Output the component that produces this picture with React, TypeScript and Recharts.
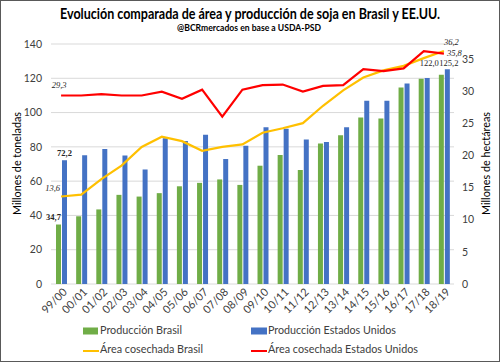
import React from "react";
import {
  ComposedChart,
  Bar,
  Line,
  XAxis,
  YAxis,
  CartesianGrid,
  LabelList,
} from "recharts";

const seasons = [
  "99/00", "00/01", "01/02", "02/03", "03/04", "04/05", "05/06", "06/07", "07/08", "08/09",
  "09/10", "10/11", "11/12", "12/13", "13/14", "14/15", "15/16", "16/17", "17/18", "18/19",
];

// millones de toneladas
const prodBrasil = [
  34.7, 39.5, 43.5, 52.0, 51.0, 53.0, 57.0, 59.0, 61.0, 57.8,
  69.0, 75.3, 66.5, 82.0, 86.7, 97.1, 96.5, 114.6, 119.8, 122.0,
];
const prodEEUU = [
  72.2, 75.1, 78.7, 75.0, 66.8, 85.0, 83.4, 87.0, 72.9, 80.7,
  91.4, 90.6, 84.3, 82.8, 91.4, 106.9, 106.9, 116.9, 120.1, 125.2,
];

// millones de hectáreas
const areaBrasil = [
  13.6, 13.9, 16.3, 18.4, 21.3, 22.9, 22.2, 20.7, 21.3, 21.7,
  23.5, 24.2, 25.0, 27.7, 30.1, 32.1, 33.2, 33.9, 35.1, 36.2,
];
const areaEEUU = [
  29.3, 29.3, 29.5, 29.3, 29.3, 29.9, 28.8, 30.2, 26.0, 30.2,
  30.9, 31.0, 29.9, 30.8, 30.9, 33.4, 33.1, 33.5, 36.2, 35.8,
];

const leftTicks = [0, 20, 40, 60, 80, 100, 120, 140];
const rightTicks = [0, 5, 10, 15, 20, 25, 30, 35];

const seriesNames = [
  "Producción Brasil",
  "Producción Estados Unidos",
  "Área cosechada Brasil",
  "Área cosechada Estados Unidos",
];

const GREEN = "#70AD47";
const BLUE = "#4472C4";
const YELLOW = "#FFC000";
const RED = "#FF0000";

const data = seasons.map((s, i) => ({
  season: s,
  prodBrasil: prodBrasil[i],
  prodEEUU: prodEEUU[i],
  areaBrasil: areaBrasil[i],
  areaEEUU: areaEEUU[i],
}));

const last = seasons.length - 1;
const fmt = (v: number) => v.toFixed(1).replace(".", ",");

// etiqueta solo en un punto (primero / último)
function pointLabel(opts: {
  index: number;
  dx: number;
  dy: number;
  anchor?: string;
  bold?: boolean;
  italic?: boolean;
  bar?: boolean;
}) {
  return (props: any) => {
    if (props.index !== opts.index) return null;
    const x = opts.bar ? props.x + props.width / 2 : props.x;
    return (
      <text
        x={x + opts.dx}
        y={props.y + opts.dy}
        textAnchor={opts.anchor || "middle"}
        fontSize={8.5}
        fontFamily="'Liberation Serif', serif"
        fontWeight={opts.bold ? 700 : 400}
        fontStyle={opts.italic ? "italic" : "normal"}
        fill="#262626"
      >
        {fmt(props.value)}
      </text>
    );
  };
}

const SeasonTick = (props: any) => {
  const { x, y, payload } = props;
  return (
    <g transform={`translate(${x + 4},${y - 2})`}>
      <text
        transform="rotate(-45)"
        textAnchor="end"
        dy="0.35em"
        fontSize={11}
        fontFamily="Lato, sans-serif"
        fill="#404040"
      >
        {payload.value}
      </text>
    </g>
  );
};

const tickStyle = { fontSize: 10.5, fontFamily: "Lato, sans-serif", fill: "#404040" };

export default function App() {
  return (
    <div style={{ position: "relative", width: 500, height: 362, background: "#fff" }}>
      <style>{"body{margin:0}"}</style>
      <ComposedChart
        width={500}
        height={362}
        data={data}
        margin={{ top: 44, right: 16, bottom: 38, left: 11 }}
        barSize={5}
        barGap={1}
      >
        <CartesianGrid yAxisId="left" vertical={false} stroke="#d9d9d9" />
        <XAxis
          dataKey="season"
          interval={0}
          height={40}
          axisLine={false}
          tickLine={false}
          tick={<SeasonTick />}
        />
        <YAxis
          yAxisId="left"
          width={40}
          domain={[0, 140]}
          ticks={leftTicks}
          axisLine={false}
          tickLine={false}
          tickMargin={3}
          tick={tickStyle}
        />
        <YAxis
          yAxisId="right"
          orientation="right"
          width={30}
          domain={[0, 37.3]}
          ticks={rightTicks}
          axisLine={false}
          tickLine={false}
          tickMargin={2}
          tick={{ ...tickStyle, textAnchor: "start" }}
        />
        <Bar yAxisId="left" dataKey="prodBrasil" fill={GREEN} isAnimationActive={false}>
          <LabelList dataKey="prodBrasil" content={pointLabel({ index: 0, dx: -5, dy: -5, bold: true, bar: true })} />
          <LabelList dataKey="prodBrasil" content={pointLabel({ index: last, dx: -2.5, dy: -8.5, anchor: "end", bar: true })} />
        </Bar>
        <Bar yAxisId="left" dataKey="prodEEUU" fill={BLUE} isAnimationActive={false}>
          <LabelList dataKey="prodEEUU" content={pointLabel({ index: 0, dx: 0, dy: -4, bold: true, bar: true })} />
          <LabelList dataKey="prodEEUU" content={pointLabel({ index: last, dx: -8, dy: -3.5, anchor: "start", bar: true })} />
        </Bar>
        <Line
          yAxisId="right"
          dataKey="areaBrasil"
          stroke={YELLOW}
          strokeWidth={2.2}
          dot={false}
          isAnimationActive={false}
        >
          <LabelList dataKey="areaBrasil" content={pointLabel({ index: 0, dx: -1, dy: -5, anchor: "end", italic: true })} />
          <LabelList dataKey="areaBrasil" content={pointLabel({ index: last, dx: 0, dy: -6, anchor: "start", italic: true })} />
        </Line>
        <Line
          yAxisId="right"
          dataKey="areaEEUU"
          stroke={RED}
          strokeWidth={2.2}
          dot={false}
          isAnimationActive={false}
        >
          <LabelList dataKey="areaEEUU" content={pointLabel({ index: 0, dx: -2, dy: -7, italic: true })} />
          <LabelList dataKey="areaEEUU" content={pointLabel({ index: last, dx: 3, dy: 2.5, anchor: "start", italic: true })} />
        </Line>
      </ComposedChart>

      <svg
        width={500}
        height={362}
        style={{ position: "absolute", left: 0, top: 0, pointerEvents: "none" }}
        fontFamily="Lato, sans-serif"
      >
        <rect x={0.5} y={0.5} width={499} height={361} fill="none" stroke="#595959" />
        <text x={250} y={19} textAnchor="middle" fontSize={14.5} fontWeight={700} fill="#000"
          textLength={380} lengthAdjust="spacingAndGlyphs">
          Evolución comparada de área y producción de soja en Brasil y EE.UU.
        </text>
        <text x={249} y={31} textAnchor="middle" fontSize={10} fontWeight={700} fill="#000"
          textLength={144} lengthAdjust="spacingAndGlyphs">
          @BCRmercados en base a USDA-PSD
        </text>
        <text transform="translate(21,163.5) rotate(-90)" textAnchor="middle" fontSize={12} fill="#000"
          textLength={103} lengthAdjust="spacingAndGlyphs">
          Millones de toneladas
        </text>
        <text transform="translate(490,163.5) rotate(-90)" textAnchor="middle" fontSize={12} fill="#000"
          textLength={103} lengthAdjust="spacingAndGlyphs">
          Millones de hectáreas
        </text>

        <rect x={83} y={327.5} width={15} height={7} fill={GREEN} />
        <text x={100} y={334} fontSize={12} fill="#404040" textLength={82} lengthAdjust="spacingAndGlyphs">
          {seriesNames[0]}
        </text>
        <rect x={251} y={327.5} width={16} height={7} fill={BLUE} />
        <text x={268} y={334} fontSize={12} fill="#404040" textLength={128} lengthAdjust="spacingAndGlyphs">
          {seriesNames[1]}
        </text>
        <line x1={83} x2={99} y1={351} y2={351} stroke={YELLOW} strokeWidth={2} />
        <text x={100} y={353} fontSize={12} fill="#404040" textLength={103} lengthAdjust="spacingAndGlyphs">
          {seriesNames[2]}
        </text>
        <line x1={251} x2={267} y1={351} y2={351} stroke={RED} strokeWidth={2} />
        <text x={268} y={353} fontSize={12} fill="#404040" textLength={150} lengthAdjust="spacingAndGlyphs">
          {seriesNames[3]}
        </text>
      </svg>
    </div>
  );
}
